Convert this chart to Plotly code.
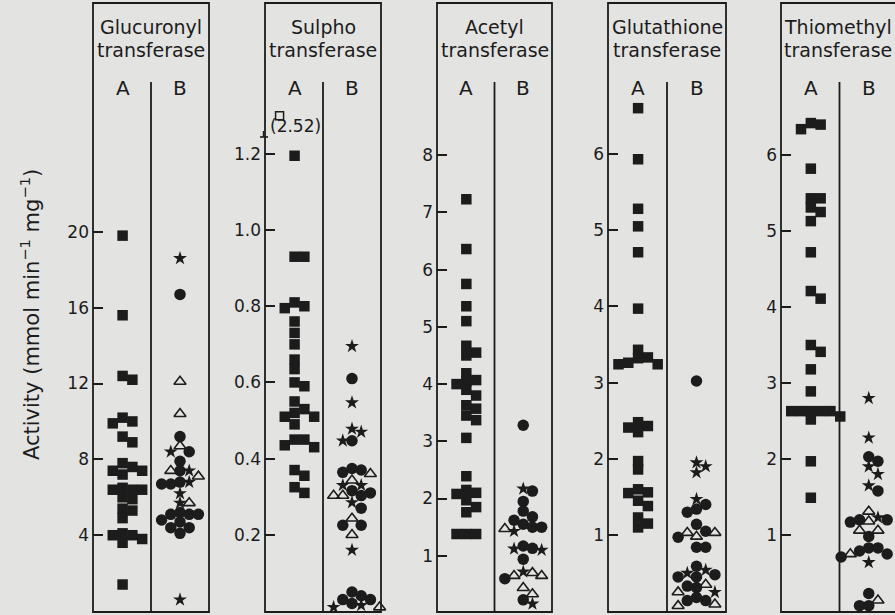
import plotly.graph_objects as go

# ---------------- data ----------------
panel_titles = [("Glucuronyl", "transferase"), ("Sulpho", "transferase"),
                ("Acetyl", "transferase"), ("Glutathione", "transferase"),
                ("Thiomethyl", "transferase")]
group_labels = ["A", "B"]
y_title = "Activity (mmol min<sup>\u22121</sup> mg<sup>\u22121</sup>)"

# Glucuronyl transferase
gluc_A = [19.8, 15.6, 12.4, 12.2, 10.2, 10.0, 9.9, 9.2, 8.9, 7.8, 7.6, 7.4, 7.4, 7.2,
          6.5, 6.4, 6.4, 6.4, 6.0, 5.9, 5.4, 5.3, 4.9, 4.1, 4.0, 4.0, 3.8, 3.6, 1.4]
gluc_B_circ = [16.7, 9.2, 8.4, 7.9, 7.4, 6.8, 6.7, 6.7, 5.2, 5.1, 5.1, 5.1, 4.8, 4.7, 4.4, 4.4, 4.1]
gluc_B_star = [18.6, 8.4, 7.4, 6.8, 6.2, 5.7, 0.6]
gluc_B_tri = [12.1, 10.4, 8.7, 7.4, 7.1, 5.7]
gluc_ticks = [4, 8, 12, 16, 20]

# Sulphotransferase
sulf_A = [1.195, 0.93, 0.93, 0.81, 0.80, 0.795, 0.76, 0.73, 0.70, 0.66, 0.635, 0.60, 0.59,
          0.55, 0.53, 0.52, 0.51, 0.51, 0.49, 0.45, 0.45, 0.435, 0.43, 0.37, 0.355, 0.325, 0.31]
sulf_A_offscale = [2.52]
sulf_B_circ = [0.61, 0.447, 0.374, 0.37, 0.364, 0.316, 0.31, 0.303, 0.27, 0.225, 0.225,
               0.05, 0.04, 0.03, 0.03, 0.02]
sulf_B_star = [0.695, 0.547, 0.478, 0.47, 0.447, 0.33, 0.33, 0.285, 0.16, 0.015, 0.01]
sulf_B_tri = [0.36, 0.343, 0.303, 0.303, 0.243, 0.2, 0.01]
sulf_ticks = [0.2, 0.4, 0.6, 0.8, 1.0, 1.2]
sulf_ticktext = ["0.2", "0.4", "0.6", "0.8", "1.0", "1.2"]

# Acetyl transferase
acet_A = [7.23, 6.36, 5.75, 5.36, 5.1, 4.67, 4.55, 4.5, 4.19, 4.07, 4.05, 4.0, 3.9, 3.8,
          3.63, 3.57, 3.45, 3.37, 3.06, 2.39, 2.15, 2.1, 2.08, 1.97, 1.85, 1.76, 1.38, 1.38, 1.38]
acet_B_circ = [3.28, 2.13, 1.95, 1.78, 1.68, 1.62, 1.55, 1.5, 1.5, 1.17, 1.13, 0.94, 0.6, 0.23]
acet_B_star = [2.17, 1.43, 1.12, 1.1, 0.72, 0.16]
acet_B_tri = [1.47, 0.7, 0.65, 0.65, 0.44, 0.33]
acet_ticks = [1, 2, 3, 4, 5, 6, 7, 8]

# Glutathione transferase
glut_A = [6.6, 5.93, 5.28, 5.05, 4.71, 3.97, 3.43, 3.33, 3.32, 3.26, 3.24, 3.24, 2.48, 2.43,
          2.41, 2.35, 1.97, 1.86, 1.6, 1.56, 1.55, 1.45, 1.38, 1.23, 1.15, 1.1]
glut_B_circ = [3.02, 1.4, 1.34, 1.3, 1.14, 1.05, 0.97, 0.84, 0.84, 0.59, 0.48, 0.45, 0.45,
               0.33, 0.31, 0.18, 0.14, 0.14]
glut_B_star = [1.95, 1.9, 1.82, 1.47, 0.54, 0.5, 0.25]
glut_B_tri = [1.03, 1.03, 0.98, 0.35, 0.25, 0.09, 0.07]
glut_ticks = [1, 2, 3, 4, 5, 6]

# Thiomethyl transferase
thio_A = [6.42, 6.4, 6.34, 5.82, 5.43, 5.43, 5.31, 5.25, 5.13, 4.72, 4.21, 4.11, 3.5, 3.41,
          3.18, 2.89, 2.63, 2.63, 2.63, 2.63, 2.63, 2.56, 2.52, 1.97, 1.49]
thio_B_circ = [2.03, 1.97, 1.58, 1.2, 1.2, 1.17, 0.98, 0.83, 0.83, 0.79, 0.75, 0.72, 0.71,
               0.23, 0.07, 0.07]
thio_B_star = [2.8, 2.28, 1.9, 1.8, 1.65, 1.23, 1.17, 0.64]
thio_B_tri = [1.31, 1.18, 1.06, 1.06, 0.75, 0.14]
thio_ticks = [1, 2, 3, 4, 5, 6]

panels_A = [gluc_A, sulf_A, acet_A, glut_A, thio_A]
panels_B = [(gluc_B_circ, gluc_B_star, gluc_B_tri), (sulf_B_circ, sulf_B_star, sulf_B_tri),
            (acet_B_circ, acet_B_star, acet_B_tri), (glut_B_circ, glut_B_star, glut_B_tri),
            (thio_B_circ, thio_B_star, thio_B_tri)]
panel_ticks = [gluc_ticks, sulf_ticks, acet_ticks, glut_ticks, thio_ticks]
panel_ticktext = [[str(t) for t in gluc_ticks], sulf_ticktext, [str(t) for t in acet_ticks],
                  [str(t) for t in glut_ticks], [str(t) for t in thio_ticks]]

# ---------------- layout constants ----------------
FW, FH = 895, 615
panel_left = [93, 265, 437, 608, 781]
panel_width = [116, 116, 115, 118, 117]
box_top, box_bottom = 3, 612
divider_top = 82
y_ranges = [(-0.05, 32.07), (-0.0026, 1.596), (0.017, 10.66), (-0.01, 7.98), (-0.013, 8.0)]
sulf_break_pos = 1.30

INK = "#1c1c1c"
BG = "#e3e3e1"
FONT = "DejaVu Sans"
A_CENTER, B_CENTER = 0.255, 0.75


def px_x(p):
    return p / FW


def px_y(p):
    return 1 - p / FH


def swarm(vals, ppu, step, vthresh):
    """simple slot beeswarm: returns horizontal pixel offsets"""
    order = sorted(range(len(vals)), key=lambda i: -vals[i])
    placed, offs = [], [0.0] * len(vals)
    for i in order:
        y = vals[i] * ppu
        x = 0
        for k in [0, 1, -1, 2, -2, 3, -3, 4, -4]:
            x = k * step
            if all(abs(x - px) >= step * 0.99 or abs(y - py) >= vthresh for px, py in placed):
                break
        placed.append((x, y))
        offs[i] = x
    return offs


fig = go.Figure()
shapes, annotations = [], []
layout_axes = {}

for i in range(5):
    left, W = panel_left[i], panel_width[i]
    right_vis = min(left + W, FW)
    ymin, ymax = y_ranges[i]
    ppu = (box_bottom - box_top) / (ymax - ymin)
    xa = "xaxis" if i == 0 else f"xaxis{i+1}"
    ya = "yaxis" if i == 0 else f"yaxis{i+1}"
    xr = "x" if i == 0 else f"x{i+1}"
    yr = "y" if i == 0 else f"y{i+1}"
    layout_axes[xa] = dict(domain=[px_x(left), px_x(right_vis)], range=[0, (right_vis - left) / W],
                           visible=False, anchor=yr, fixedrange=True)
    layout_axes[ya] = dict(domain=[px_y(box_bottom), px_y(box_top)], range=[ymin, ymax],
                           anchor=xr, showgrid=False, zeroline=False, showline=False,
                           ticks="inside", ticklen=10, tickwidth=1.8, tickcolor=INK,
                           tickvals=panel_ticks[i], ticktext=panel_ticktext[i],
                           tickfont=dict(family=FONT, size=17, color=INK),
                           ticklabelstandoff=3, fixedrange=True)

    # group A: filled squares
    A = panels_A[i]
    offA = swarm(A, ppu, 9.8, 8.0)
    fig.add_trace(go.Scatter(x=[A_CENTER + o / W for o in offA], y=A, mode="markers",
                             xaxis=xr, yaxis=yr, cliponaxis=False, showlegend=False,
                             marker=dict(symbol="square", size=10.5, color=INK, line=dict(width=0))))

    # group B: circles, stars, open triangles swarmed together
    circ, star, tri = panels_B[i]
    allB = list(circ) + list(star) + list(tri)
    offB = swarm(allB, ppu, 9.2, 9.2)
    nc, ns = len(circ), len(star)
    groups = [(circ, offB[:nc], dict(symbol="circle", size=11.5, color=INK, line=dict(width=0))),
              (star, offB[nc:nc + ns], dict(symbol="star", size=10.5, color=INK, line=dict(width=0))),
              (tri, offB[nc + ns:], dict(symbol="triangle-up-open", size=10.5, color=INK,
                                         line=dict(width=1.6, color=INK)))]
    for vals, offs, mk in groups:
        fig.add_trace(go.Scatter(x=[B_CENTER + o / W for o in offs], y=vals, mode="markers",
                                 xaxis=xr, yaxis=yr, cliponaxis=False, showlegend=False,
                                 marker=mk))

    # panel box and divider
    shapes.append(dict(type="rect", xref="paper", yref="paper",
                       x0=px_x(left), x1=px_x(left + W), y0=px_y(box_bottom), y1=px_y(box_top),
                       line=dict(color=INK, width=1.8), fillcolor="rgba(0,0,0,0)", layer="above"))
    shapes.append(dict(type="line", xref="paper", yref="paper",
                       x0=px_x(left + W / 2), x1=px_x(left + W / 2),
                       y0=px_y(box_bottom), y1=px_y(divider_top),
                       line=dict(color=INK, width=1.8)))

    # titles and group labels
    cx = left + W / 2
    if left + W > FW:  # last panel is cut by the page edge: keep its title on the page
        tx, tanchor = FW - 1, "right"
    else:
        tx, tanchor = cx, "center"
    for txt, ypx in zip(panel_titles[i], (27, 50)):
        annotations.append(dict(text=txt, xref="paper", yref="paper", x=px_x(tx), y=px_y(ypx),
                                showarrow=False, xanchor=tanchor, yanchor="middle",
                                font=dict(family=FONT, size=19, color=INK)))
    for lab, c in zip(group_labels, (A_CENTER, B_CENTER)):
        annotations.append(dict(text=lab, xref="paper", yref="paper", x=px_x(left + c * W),
                                y=px_y(88), showarrow=False, xanchor="center", yanchor="middle",
                                font=dict(family=FONT, size=20, color=INK)))

    if i == 1:
        # off-scale value shown above an axis break
        fig.add_trace(go.Scatter(x=[A_CENTER - 15 / W], y=[sulf_break_pos], mode="markers",
                                 xaxis=xr, yaxis=yr, cliponaxis=False, showlegend=False,
                                 marker=dict(symbol="square-open", size=8, color=INK,
                                             line=dict(width=1.5, color=INK))))
        annotations.append(dict(text="(%.2f)" % sulf_A_offscale[0], xref=xr, yref=yr,
                                x=A_CENTER + 0.5 / W, y=sulf_break_pos - 10 / ppu, showarrow=False,
                                xanchor="center", yanchor="middle",
                                font=dict(family=FONT, size=17, color=INK)))
        shapes.append(dict(type="line", xref="paper", yref="paper",
                           x0=px_x(left - 5), x1=px_x(left + 3), y0=px_y(137), y1=px_y(137),
                           line=dict(color=INK, width=1.6)))
        shapes.append(dict(type="line", xref="paper", yref="paper",
                           x0=px_x(left - 1.5), x1=px_x(left - 1.5), y0=px_y(137), y1=px_y(131),
                           line=dict(color=INK, width=1.4)))

annotations.append(dict(text=y_title, xref="paper", yref="paper", x=px_x(30), y=px_y(315),
                        showarrow=False, textangle=-90, xanchor="center", yanchor="middle",
                        font=dict(family=FONT, size=21, color=INK)))

fig.update_layout(width=FW, height=FH, margin=dict(l=0, r=0, t=0, b=0),
                  paper_bgcolor=BG, plot_bgcolor=BG, shapes=shapes, annotations=annotations,
                  **layout_axes)

# remove the default page margin so the figure fills the window exactly
page_fix = ("document.body.style.margin='0';document.body.style.padding='0';"
            "document.body.style.overflow='hidden';"
            "document.body.style.background='%s';" % BG)
fig.write_html("out.html", config={"displayModeBar": False}, post_script=page_fix)
